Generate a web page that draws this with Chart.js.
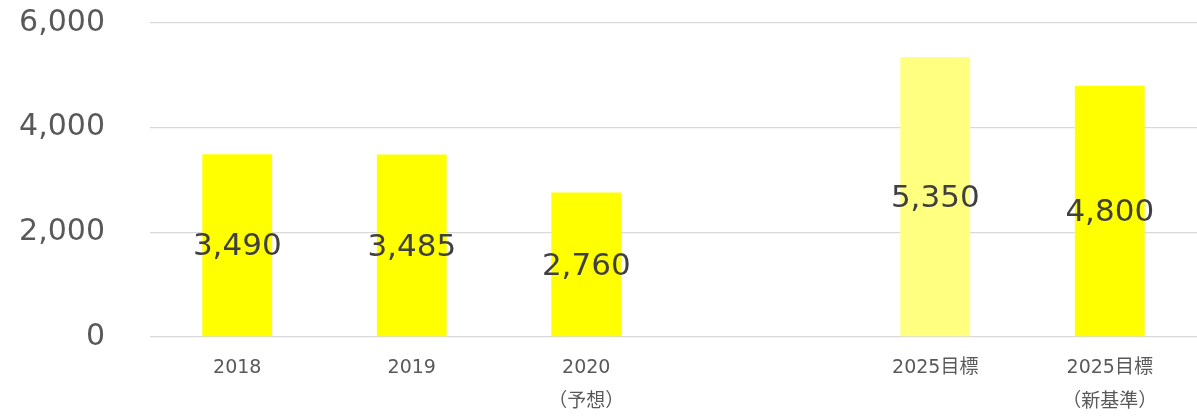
<!DOCTYPE html>
<html>
<head>
<meta charset="utf-8">
<script src="https://cdn.jsdelivr.net/npm/chart.js@4/dist/chart.umd.min.js"></script>
<style>
  html, body { margin: 0; padding: 0; background: #fff; }
  #wrap { width: 1197px; height: 416px; }
</style>
</head>
<body>
<div id="wrap"><canvas id="chart"></canvas></div>
<script>
const categories = [['2018'], ['2019'], ['2020', '（予想）'], [''], ['2025目標'], ['2025目標', '（新基準）']];
const values = [3490, 3485, 2760, null, 5350, 4800];
const barColors = ['#FFFF00', '#FFFF00', '#FFFF00', '#FFFF00', '#FFFF80', '#FFFF00'];
const yTicks = [0, 2000, 4000, 6000];

const fontFamily = '"DejaVu Sans", "Noto Sans CJK JP", sans-serif';

// labels in the middle of each bar
const barLabels = {
    id: 'barLabels',
    afterDatasetsDraw(chart) {
        const ctx = chart.ctx;
        const meta = chart.getDatasetMeta(0);
        ctx.save();
        ctx.font = '31px ' + fontFamily;
        ctx.fillStyle = '#404040';
        ctx.textAlign = 'center';
        ctx.textBaseline = 'middle';
        meta.data.forEach((bar, i) => {
            const v = values[i];
            if (v === null) return;
            const mid = (bar.y + bar.base) / 2;
            ctx.fillText(v.toLocaleString('en-US'), bar.x, mid + 2);
        });
        ctx.restore();
    }
};

new Chart(document.getElementById('chart'), {
    type: 'bar',
    data: {
        labels: categories,
        datasets: [{
            data: values,
            backgroundColor: barColors,
            categoryPercentage: 1,
            barPercentage: 0.4
        }]
    },
    options: {
        responsive: true,
        maintainAspectRatio: false,
        animation: false,
        layout: { padding: { top: 23, right: 0, left: 0, bottom: 0 } },
        plugins: {
            legend: { display: false },
            tooltip: { enabled: false }
        },
        scales: {
            x: {
                grid: { display: false },
                border: { display: false },
                ticks: {
                    color: '#595959',
                    font: { family: fontFamily, size: 19, lineHeight: 1.8 },
                    padding: 6,
                    maxRotation: 0,
                    autoSkip: false
                },
                afterFit(scale) {
                    scale.height = 79;
                    scale.paddingLeft = 0;
                    scale.paddingRight = 0;
                }
            },
            y: {
                min: 0,
                max: 6000,
                afterBuildTicks(scale) {
                    scale.ticks = yTicks.map(v => ({ value: v }));
                },
                grid: { color: '#d9d9d9', lineWidth: 1.3, drawTicks: false },
                border: { display: false },
                ticks: {
                    color: '#595959',
                    font: { family: fontFamily, size: 30 },
                    padding: 45,
                    callback: v => v.toLocaleString('en-US')
                },
                afterFit(scale) {
                    scale.width = 150;
                    scale.paddingTop = 0;
                    scale.paddingBottom = 0;
                }
            }
        }
    },
    plugins: [barLabels]
});
</script>
</body>
</html>
